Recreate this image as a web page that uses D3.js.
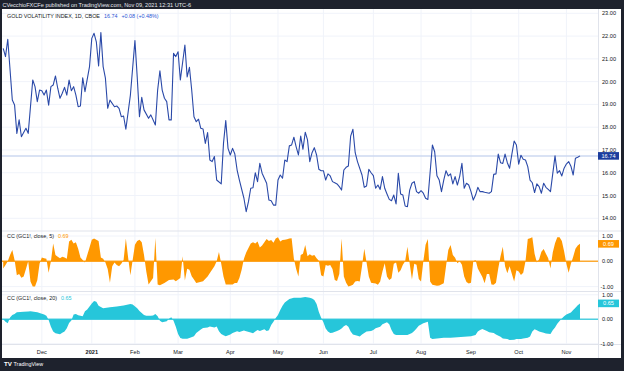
<!DOCTYPE html>
<html>
<head>
<meta charset="utf-8">
<script src="https://cdn.jsdelivr.net/npm/d3@7"></script>
<style>
  body { margin: 0; background: #1e222d; }
  text { font-family: "Liberation Sans", Arial, sans-serif; }
</style>
</head>
<body>
<div id="chart"></div>
<script>
// trading-day index (0 = first bar on screen) and value
var gvz = [[-1,21.46],[0,21.1],[1,21.86],[3,19.19],[4,18.97],[5,17.73],[6,18.32],[7,17.58],[9,17.95],[10,17.73],[12,20.07],[13,19.78],[14,19.12],[15,19.63],[16,19.6],[17,19.41],[18,19.63],[19,18.97],[20,19.78],[21,19.85],[22,20.25],[23,19.71],[24,19.27],[25,19.49],[26,19.75],[27,19.41],[28,20.07],[29,19.6],[30,19.78],[31,19.41],[32,18.9],[33,18.93],[34,20.17],[35,19.56],[37,20.66],[38,21.9],[39,22.12],[40,21.75],[41,20.69],[42,22.15],[43,20.66],[44,20.15],[45,18.83],[46,19.19],[48,18.9],[49,18.93],[50,18.83],[51,18.46],[52,18.49],[53,17.91],[55,19.41],[57,21.8],[58,20.21],[59,18.46],[60,19.31],[61,18.76],[63,18.39],[64,18.54],[66,18.1],[67,19.63],[68,20.48],[69,19.63],[70,19.27],[71,19.12],[72,18.32],[73,18.32],[74,21.24],[75,21.1],[76,21.31],[77,20.07],[79,21.61],[80,20.21],[81,20.63],[82,19.63],[83,18.46],[84,18.24],[85,18.35],[86,17.95],[87,17.92],[88,17.29],[89,17.76],[90,16.56],[91,16.49],[92,16.71],[93,15.68],[95,15.51],[96,17.29],[97,18.29],[98,17.07],[99,16.78],[100,17.07],[101,16.82],[102,16.12],[103,15.68],[105,14.88],[106,14.29],[107,14.73],[108,15.32],[109,15.34],[110,16.0],[111,15.61],[112,16.41],[113,15.98],[115,15.54],[116,14.8],[117,14.77],[118,14.58],[119,14.58],[120,15.68],[121,15.9],[122,15.76],[123,16.56],[124,16.49],[125,17.18],[126,17.22],[127,17.56],[128,17.14],[129,16.78],[130,17.61],[131,17.03],[132,17.78],[133,17.44],[134,16.49],[135,16.88],[136,17.1],[137,16.78],[138,16.15],[139,16.09],[140,16.09],[141,15.68],[142,15.95],[143,15.86],[144,15.61],[145,15.56],[146,15.51],[147,15.39],[148,15.24],[149,16.12],[150,16.24],[151,16.3],[152,17.61],[153,17.91],[154,16.88],[155,16.49],[157,15.9],[158,15.36],[159,15.42],[160,16.15],[161,16.0],[162,15.87],[163,15.32],[164,15.46],[165,15.27],[166,15.83],[167,15.32],[168,15.07],[169,14.83],[170,14.77],[171,15.02],[172,14.63],[173,15.98],[174,15.07],[175,15.02],[176,14.54],[177,14.51],[178,15.24],[179,15.54],[180,15.61],[181,15.17],[182,15.1],[183,15.21],[184,15.1],[185,14.88],[186,14.83],[188,17.22],[189,16.92],[190,15.87],[191,15.68],[192,15.17],[193,15.68],[194,16.09],[195,15.86],[196,15.95],[197,15.51],[198,15.83],[199,15.46],[200,15.83],[201,16.41],[202,15.32],[203,15.54],[204,15.46],[205,15.17],[206,14.8],[207,15.02],[208,15.36],[209,15.17],[210,15.17],[211,15.14],[213,15.1],[214,15.17],[215,15.93],[216,15.95],[217,16.82],[218,16.44],[219,16.41],[220,16.82],[221,16.44],[222,16.2],[223,16.82],[224,17.39],[225,17.22],[226,16.38],[227,16.77],[228,16.59],[229,16.56],[230,16.27],[231,15.68],[232,15.56],[233,15.13],[234,15.51],[235,15.39],[236,15.1],[237,15.54],[238,15.36],[239,15.27],[240,15.17],[242,16.74],[243,15.98],[244,16.09],[245,15.86],[246,16.2],[247,16.38],[248,16.49],[249,16.29],[250,15.9],[251,16.64],[252,16.68],[253,16.74]];

var cc5 = [[-1,-0.28],[0,-0.15],[1,0.0],[2,0.25],[3,0.45],[4,0.05],[5,-0.55],[6,-0.5],[7,-0.65],[8,-0.6],[9,-0.3],[10,0.0],[11,-0.8],[12,-1.0],[13,-1.0],[14,-0.75],[15,-0.1],[16,0.15],[17,0.12],[18,0.1],[19,-0.45],[20,0.0],[21,0.7],[22,0.25],[23,0.18],[24,0.12],[25,0.18],[26,0.15],[27,0.1],[28,0.78],[29,0.85],[30,0.7],[31,0.75],[32,0.5],[33,0.15],[34,0.05],[35,-0.05],[36,0.25],[37,0.55],[38,0.85],[39,0.9],[40,0.85],[41,0.8],[42,0.15],[43,0.1],[44,-0.05],[45,-0.3],[46,-0.85],[47,-0.2],[48,-0.05],[49,-0.15],[50,-0.2],[51,-0.1],[52,0.05],[53,0.9],[54,0.15],[55,-0.55],[56,0.05],[57,0.65],[58,0.8],[59,0.85],[60,0.75],[61,0.25],[62,-0.4],[63,-0.92],[65,-0.66],[66,0.92],[67,-0.92],[68,-0.95],[70,-0.86],[72,-0.74],[74,-0.72],[75,-0.79],[77,-0.66],[78,0.2],[79,-0.76],[80,-0.29],[81,-0.33],[82,-0.59],[83,-0.72],[84,-0.86],[87,-0.79],[89,-0.6],[90,-0.46],[92,-0.2],[93,0.0],[94,0.37],[95,-0.1],[96,-0.6],[97,-0.92],[100,-0.92],[101,-0.86],[102,-0.86],[103,-0.66],[104,-0.33],[105,0.1],[106,0.35],[107,0.53],[108,0.7],[109,0.75],[110,0.7],[111,0.78],[112,0.55],[113,0.62],[114,0.75],[115,0.88],[116,0.8],[117,0.84],[118,0.73],[119,0.9],[120,0.95],[121,0.78],[122,0.84],[123,0.85],[124,0.87],[125,0.9],[126,0.91],[127,0.1],[128,-0.3],[129,-0.6],[130,0.25],[131,0.3],[132,0.64],[133,0.2],[134,0.28],[135,0.22],[136,0.25],[137,0.12],[138,0.02],[139,-0.55],[140,-0.6],[141,-0.15],[142,-0.18],[143,-0.15],[144,-0.3],[145,-0.74],[146,-0.78],[147,-0.5],[148,0.9],[149,-0.6],[150,-0.85],[151,-1.0],[152,-0.97],[153,-0.93],[154,-0.8],[155,-0.78],[156,-0.8],[157,-0.2],[158,0.5],[159,-0.05],[160,-0.6],[161,-0.85],[163,-0.88],[164,-0.93],[165,-0.8],[166,-0.4],[167,-0.08],[168,-0.6],[169,-0.74],[170,-0.67],[171,-0.1],[172,-0.05],[173,-0.45],[174,-0.35],[175,-0.14],[176,0.0],[177,0.58],[178,-0.1],[179,-0.72],[180,-0.1],[181,-0.14],[182,-0.7],[183,-0.8],[184,0.0],[185,0.65],[186,0.88],[187,-0.8],[188,-0.93],[190,-0.97],[191,-0.96],[193,-0.87],[194,-0.2],[195,0.45],[196,0.64],[197,0.25],[198,0.14],[199,-0.08],[200,0.0],[201,-0.14],[202,-0.6],[203,-0.82],[204,-0.88],[205,-0.85],[206,0.0],[207,0.05],[208,-0.28],[209,-0.45],[210,-0.62],[211,-0.87],[212,-0.5],[213,-0.5],[214,-0.92],[215,-0.93],[216,-0.85],[217,-0.28],[218,0.2],[219,0.58],[220,-0.2],[221,-0.47],[222,-0.2],[223,-0.5],[224,-0.8],[225,-0.35],[226,-0.4],[227,-0.54],[228,-0.45],[229,0.0],[230,0.88],[231,0.91],[232,0.95],[233,0.3],[234,-0.05],[235,0.08],[236,0.38],[237,0.49],[238,0.3],[239,0.12],[240,-0.28],[241,0.35],[242,0.71],[243,0.95],[244,0.95],[245,0.8],[246,0.4],[247,-0.1],[248,-0.45],[249,-0.1],[250,0.18],[251,0.5],[252,0.62],[253,0.69]];

var cc20 = [[-1,0.0],[0,-0.1],[1,-0.16],[2,0.07],[3,0.18],[4,0.22],[5,0.29],[8,0.31],[10,0.32],[11,0.33],[14,0.29],[17,0.2],[18,0.15],[19,-0.03],[20,-0.3],[21,-0.5],[22,-0.57],[24,-0.61],[25,-0.55],[26,-0.5],[27,-0.37],[28,-0.15],[29,-0.05],[30,0.2],[31,0.22],[32,0.17],[34,0.12],[35,0.33],[36,0.4],[37,0.52],[38,0.65],[39,0.75],[40,0.72],[41,0.55],[42,0.5],[43,0.45],[46,0.49],[49,0.52],[52,0.56],[55,0.62],[56,0.6],[58,0.45],[59,0.34],[61,0.18],[62,0.15],[64,0.14],[65,0.16],[66,0.22],[67,0.12],[68,-0.06],[69,-0.12],[71,-0.08],[72,0.02],[73,0.08],[74,-0.06],[75,-0.3],[76,-0.6],[77,-0.76],[78,-0.79],[80,-0.79],[81,-0.76],[83,-0.69],[84,-0.56],[86,-0.42],[87,-0.35],[89,-0.33],[90,-0.29],[92,-0.33],[93,-0.29],[94,-0.49],[95,-0.6],[96,-0.65],[97,-0.69],[99,-0.62],[100,-0.56],[102,-0.49],[103,-0.52],[105,-0.46],[106,-0.49],[108,-0.54],[109,-0.57],[110,-0.5],[111,-0.44],[112,-0.48],[114,-0.41],[115,-0.48],[116,-0.45],[117,-0.23],[118,-0.1],[119,0.05],[120,0.18],[121,0.38],[122,0.55],[123,0.69],[124,0.76],[125,0.83],[127,0.88],[130,0.88],[132,0.91],[134,0.88],[135,0.85],[136,0.79],[137,0.62],[138,0.3],[139,0.06],[140,-0.12],[141,-0.38],[142,-0.5],[143,-0.56],[144,-0.55],[146,-0.48],[147,-0.44],[148,-0.38],[149,-0.28],[150,-0.23],[151,-0.3],[152,-0.5],[153,-0.62],[155,-0.67],[156,-0.7],[157,-0.62],[159,-0.5],[161,-0.48],[162,-0.44],[163,-0.37],[165,-0.3],[166,-0.2],[168,-0.12],[169,-0.2],[170,-0.44],[171,-0.6],[172,-0.64],[177,-0.64],[179,-0.56],[180,-0.48],[181,-0.38],[182,-0.26],[184,-0.16],[186,-0.1],[187,-0.75],[188,-0.8],[190,-0.78],[193,-0.75],[196,-0.75],[199,-0.73],[202,-0.71],[205,-0.69],[207,-0.64],[208,-0.5],[209,-0.44],[210,-0.4],[212,-0.48],[213,-0.53],[215,-0.56],[216,-0.62],[218,-0.71],[219,-0.78],[221,-0.8],[222,-0.84],[224,-0.83],[225,-0.8],[227,-0.8],[228,-0.78],[230,-0.75],[231,-0.7],[232,-0.5],[233,-0.41],[234,-0.45],[235,-0.5],[237,-0.55],[238,-0.58],[240,-0.6],[241,-0.45],[242,-0.33],[243,-0.18],[244,-0.07],[245,0.03],[246,0.12],[247,0.2],[249,0.28],[250,0.38],[251,0.47],[252,0.57],[253,0.65]];

var monthLabels = ["Dec", "2021", "Feb", "Mar", "Apr", "May", "Jun", "Jul", "Aug", "Sep", "Oct", "Nov"];
var monthBars = [16, 38, 57, 76, 99, 120, 140, 162, 183, 205, 226, 247];
var priceTicks = [14, 15, 16, 17, 18, 19, 20, 21, 22, 23];
var ccTicks = [-1, 0, 1];
var lastVol = 16.74, lastCC5 = 0.69, lastCC20 = 0.65;

var W = 624, H = 371;
var plotL = 2, plotR = 598, frameR = 621, plotTop = 9, plotBottom = 358, timeTop = 344.5;

var svg = d3.select("#chart").append("svg")
  .attr("width", W).attr("height", H);

svg.append("rect").attr("width", W).attr("height", H).attr("fill", "#1e222d");
svg.append("rect")
  .attr("x", plotL).attr("y", plotTop)
  .attr("width", frameR - plotL).attr("height", plotBottom - plotTop)
  .attr("fill", "#ffffff");

svg.append("defs").append("clipPath").attr("id", "plotClip")
  .append("rect").attr("x", plotL).attr("y", plotTop).attr("width", plotR - plotL).attr("height", timeTop - plotTop);

var x = d3.scaleLinear().domain([0, 253]).range([5.5, 580]);
var yMain = d3.scaleLinear().domain([14, 23]).range([218.3, 13.3]);
var y5 = d3.scaleLinear().domain([-1, 1]).range([286.6, 236]);
var y20 = d3.scaleLinear().domain([-1, 1]).range([343.8, 294.8]);

var grid = "#f0f3fa";

// vertical month grid
svg.append("g").selectAll("line").data(monthBars).enter().append("line")
  .attr("x1", d => x(d)).attr("x2", d => x(d))
  .attr("y1", plotTop).attr("y2", timeTop)
  .attr("stroke", grid).attr("stroke-width", 1);

// horizontal grids
svg.append("g").selectAll("line").data(priceTicks).enter().append("line")
  .attr("x1", plotL).attr("x2", plotR)
  .attr("y1", d => yMain(d)).attr("y2", d => yMain(d))
  .attr("stroke", grid);
[y5, y20].forEach(function (s) {
  svg.append("g").selectAll("line").data(ccTicks).enter().append("line")
    .attr("x1", plotL).attr("x2", plotR)
    .attr("y1", d => s(d)).attr("y2", d => s(d))
    .attr("stroke", grid);
});

// pane separators
[231, 291.5].forEach(function (yy) {
  svg.append("line").attr("x1", plotL).attr("x2", frameR)
    .attr("y1", yy).attr("y2", yy).attr("stroke", "#e0e3eb");
});
svg.append("line").attr("x1", plotL).attr("x2", frameR)
  .attr("y1", timeTop).attr("y2", timeTop).attr("stroke", "#e0e3eb");
svg.append("line").attr("x1", plotR + 0.5).attr("x2", plotR + 0.5)
  .attr("y1", plotTop).attr("y2", plotBottom).attr("stroke", "#e0e3eb");

var plot = svg.append("g").attr("clip-path", "url(#plotClip)");

// last price line
plot.append("line")
  .attr("x1", plotL).attr("x2", plotR)
  .attr("y1", yMain(lastVol)).attr("y2", yMain(lastVol))
  .attr("stroke", "#cdd8f1").attr("stroke-width", 1.5);

plot.append("path")
  .datum(gvz)
  .attr("fill", "none")
  .attr("stroke", "#2a49a8")
  .attr("stroke-width", 1.1)
  .attr("stroke-linejoin", "round")
  .attr("d", d3.line().x(d => x(d[0])).y(d => yMain(d[1])));

// correlation areas
function ccPane(data, s, color) {
  plot.append("line")
    .attr("x1", plotL).attr("x2", plotR)
    .attr("y1", s(0)).attr("y2", s(0))
    .attr("stroke", color).attr("stroke-width", 1.5).attr("opacity", 0.8);
  plot.append("path")
    .datum(data)
    .attr("fill", color)
    .attr("d", d3.area().x(d => x(d[0])).y0(s(0)).y1(d => s(d[1])));
}
ccPane(cc5, y5, "#ff9800");
ccPane(cc20, y20, "#26c6da");

// right price axis labels
var axisFont = 5.6, axisCol = "#131722";
svg.append("g").selectAll("text").data(priceTicks).enter().append("text")
  .attr("x", 602).attr("y", d => yMain(d) + 2)
  .attr("font-size", axisFont).attr("fill", axisCol)
  .text(d => d3.format(".2f")(d));
[y5, y20].forEach(function (s) {
  svg.append("g").selectAll("text").data(ccTicks).enter().append("text")
    .attr("x", d => d < 0 ? 600.5 : 602).attr("y", d => s(d) + 2)
    .attr("font-size", axisFont).attr("fill", axisCol)
    .text(d => (d < 0 ? "-" : "") + d3.format(".2f")(Math.abs(d)));
});

// value badges
function badge(yy, txt, color) {
  svg.append("rect").attr("x", 598).attr("y", yy - 3.8)
    .attr("width", 21).attr("height", 7.6).attr("fill", color);
  svg.append("text").attr("x", 608.5).attr("y", yy + 2)
    .attr("text-anchor", "middle").attr("font-size", axisFont)
    .attr("fill", "#ffffff").text(txt);
}
badge(yMain(lastVol), d3.format(".2f")(lastVol), "#1c3d9e");
badge(y5(lastCC5), d3.format(".2f")(lastCC5), "#ff9800");
badge(y20(lastCC20), d3.format(".2f")(lastCC20), "#26c6da");

// time axis
svg.append("g").selectAll("text").data(monthLabels).enter().append("text")
  .attr("x", (d, i) => x(monthBars[i])).attr("y", 353.6)
  .attr("text-anchor", "middle")
  .attr("font-size", axisFont).attr("fill", axisCol)
  .attr("font-weight", d => d === "2021" ? "bold" : "normal")
  .text(d => d);

// legends
var leg = svg.append("text").attr("x", 7).attr("y", 17.8).attr("font-size", 5.4).attr("fill", "#131722");
leg.append("tspan").text("GOLD VOLATILITY INDEX, 1D, CBOE");
leg.append("tspan").attr("dx", 4).attr("fill", "#2a55d4").text("16.74");
leg.append("tspan").attr("dx", 4).attr("fill", "#2a55d4").text("+0.08 (+0.48%)");

var l5 = svg.append("text").attr("x", 7).attr("y", 238).attr("font-size", 5.4).attr("fill", "#131722");
l5.append("tspan").text("CC (GC1!, close, 5)");
l5.append("tspan").attr("dx", 4).attr("fill", "#ff9800").text("0.69");

var l20 = svg.append("text").attr("x", 7).attr("y", 299.6).attr("font-size", 5.4).attr("fill", "#131722");
l20.append("tspan").text("CC (GC1!, close, 20)");
l20.append("tspan").attr("dx", 4).attr("fill", "#26c6da").text("0.65");

// header and footer
svg.append("text").attr("x", 2.5).attr("y", 6.6)
  .attr("font-size", 5.6).attr("fill", "#e6e8ee")
  .text("CVecchioFXCFe published on TradingView.com, Nov 09, 2021 12:31 UTC-6");

var logo = svg.append("g").attr("fill", "#ffffff");
logo.append("text").attr("x", 4).attr("y", 366.2)
  .attr("font-size", 6.2).attr("font-weight", "bold").text("TV");
logo.append("text").attr("x", 13.5).attr("y", 366.2)
  .attr("font-size", 5.4).text("TradingView");
</script>
</body>
</html>
